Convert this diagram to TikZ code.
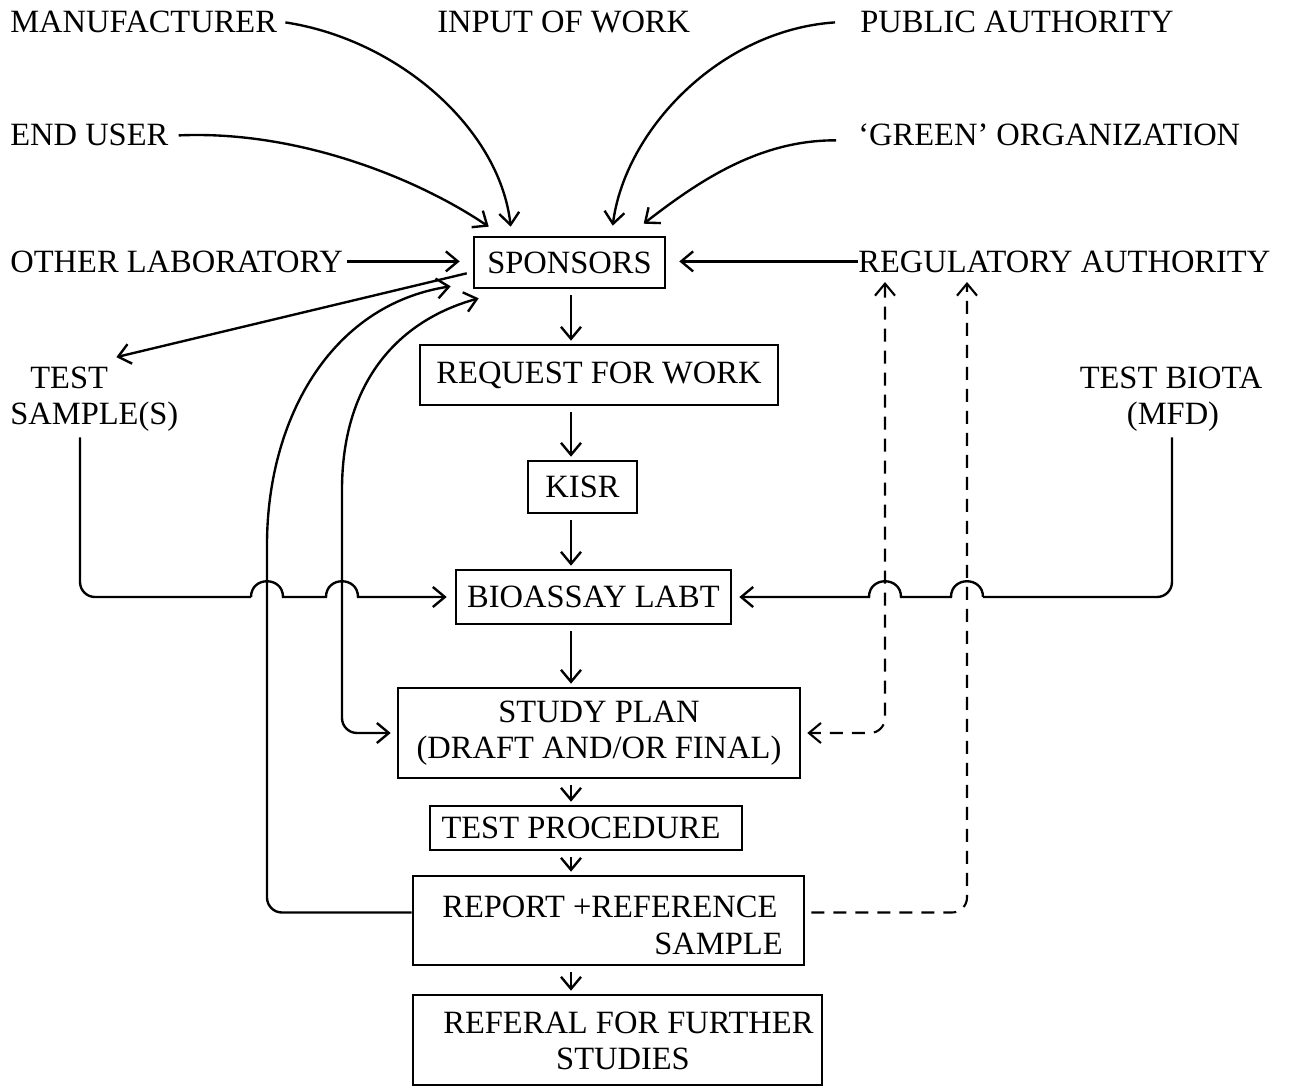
\documentclass[tikz,border=0pt]{standalone}
\usepackage{fontspec}
\setmainfont{Liberation Serif}
\usetikzlibrary{arrows.meta,calc}
\newcommand\diagfont{\fontsize{18.5}{20.5}\selectfont}
\begin{document}
\begin{tikzpicture}[x=0.02cm,y=-0.02cm,
  >={Straight Barb[length=2.4mm,width=4mm]},
  ln/.style={line width=1.35pt},
  dsh/.style={line width=1.2pt,dash pattern=on 0.26cm off 0.18cm},
  box/.style={draw,line width=1.5pt,inner sep=0pt,font=\diagfont},
  lbl/.style={inner sep=0pt,font=\diagfont}]
\useasboundingbox (0,0) rectangle (1308,1088);

% labels
\node[lbl,anchor=base west] (manu)  at (10,33)   {MANUFACTURER};
\node[lbl,anchor=base west] (input) at (437,33)  {INPUT OF WORK};
\node[lbl,anchor=base west] (pub)   at (860,33)  {PUBLIC AUTHORITY};
\node[lbl,anchor=base west] (endu)  at (10,146)  {END USER};
\node[lbl,anchor=base west] (green) at (858,146) {‘GREEN’ ORGANIZATION};
\node[lbl,anchor=base west] (olab)  at (10,272)  {OTHER LABORATORY};
\node[lbl,anchor=base west] (reg)   at (858,272) {REGULATORY AUTHORITY};
\node[lbl,anchor=base west] (ts1)   at (30,388)  {TEST};
\node[lbl,anchor=base west] (ts2)   at (10,424)  {SAMPLE(S)};
\node[lbl,anchor=base]      (tb1)   at (1171,388) {TEST BIOTA};
\node[lbl,anchor=base]      (tb2)   at (1173,424) {(MFD)};

% boxes
\node[box,minimum width=3.82cm,minimum height=1.02cm] (spon) at (569.5,262.5) {SPONSORS};
\node[box,minimum width=7.16cm,minimum height=1.2cm]  (req)  at (599,375) {REQUEST FOR WORK};
\node[box,minimum width=2.18cm,minimum height=1.04cm] (kisr) at (582.5,487) {KISR};
\node[box,minimum width=5.5cm,minimum height=1.08cm]  (bio)  at (593.5,597) {BIOASSAY LABT};
\node[box,minimum width=8.04cm,minimum height=1.8cm,align=center] (plan) at (599,733) {STUDY PLAN\\(DRAFT AND/OR FINAL)};
\node[box,minimum width=6.24cm,minimum height=0.88cm] (proc) at (586,828) {};
\node[lbl] (proct) at (581,828) {TEST PROCEDURE};
\node[box,minimum width=7.82cm,minimum height=1.78cm] (rep) at (608.5,920.5) {};
\node[lbl,anchor=base west] (rept1) at (442,917) {REPORT +REFERENCE};
\node[lbl,anchor=base east] (rept2) at (783,954) {SAMPLE};
\node[box,minimum width=8.18cm,minimum height=1.8cm] (refl) at (617.5,1040) {};
\node[lbl,anchor=base west] (reflt1) at (443,1033) {REFERAL FOR FURTHER};
\node[lbl,anchor=base]      (reflt2) at (623,1069) {STUDIES};

% incoming arrows at the top
\draw[ln,->] ($(manu.east)+(8,0)$) .. controls (400,40) and (500,130) .. ($(spon.north west)+(38,-9)$);
\draw[ln,->] ($(endu.east)+(10,0)$) .. controls (300,130) and (420,180) .. ($(spon.north west)+(16,-9)$);
\draw[ln,->] ($(pub.west)+(-25,0)$) .. controls (720,30) and (625,130) .. ($(spon.north west)+(140,-10)$);
\draw[ln,->] ($(green.west)+(-22,5)$) .. controls (760,140) and (700,180) .. ($(spon.north west)+(171,-12)$);
\draw[ln,->,shorten <=2pt,shorten >=0.26cm] (olab.east) -- (olab.east -| spon.west);
\draw[ln,->,shorten >=0.26cm] (reg.west) -- (reg.west -| spon.east);

% sponsors to test samples
\draw[ln,->] ($(spon.south west)+(-6,-16)$) -- ($(ts1.north east)+(8,-9)$);

% main vertical chain
\coordinate (vx) at (571,0);
\foreach \a/\b in {spon/req,req/kisr,kisr/bio,bio/plan,plan/proc,proc/rep,rep/refl}
  \draw[ln,->,shorten <=0.12cm,shorten >=0.06cm] (\a.south -| vx) -- (\b.north -| vx);

% test samples to bioassay (with hops)
\draw[ln,rounded corners=0.3cm] ($(ts2.south west)+(70,6)$) -- (80,597) -- (251,597);
\draw[ln,->,shorten >=0.16cm] (251,597) .. controls (251,576) and (283,576) .. (283,597)
  -- (326,597) .. controls (326,576) and (358,576) .. (358,597) -- (bio.west);

% test biota to bioassay (with hops)
\draw[ln,rounded corners=0.3cm] ($(tb2.south)+(-1,6)$) -- (1172,597) -- (983,597);
\draw[ln,->,shorten >=0.14cm] (983,597) .. controls (983,576) and (951,576) .. (951,597)
  -- (901,597) .. controls (901,576) and (869,576) .. (869,597) -- (bio.east);

% report back to sponsors
\draw[ln,->,rounded corners=0.3cm] ($(rep.west)+(0,-8)$) -- (267,912.5) -- (267,560)
  .. controls (267,420) and (330,305) .. ($(spon.south west)+(-22,-3)$);

% sponsors <-> study plan
\draw[ln,<->,shorten >=0.12cm] ($(spon.south west)+(6,9)$) .. controls (400,320) and (342,380) .. (342,490)
  [rounded corners=0.3cm] -- (342,733) -- (plan.west);

% regulatory authority dashed links
\draw[dsh,<->,rounded corners=0.3cm,shorten >=0.12cm] ($(reg.base west)+(27,10)$) -- (885,733) -- (plan.east);
\draw[dsh,->,rounded corners=0.3cm] ($(rep.east)+(6,-8)$) -- (967,912.5) -- ($(reg.base west)+(109,10)$);
\end{tikzpicture}
\end{document}
